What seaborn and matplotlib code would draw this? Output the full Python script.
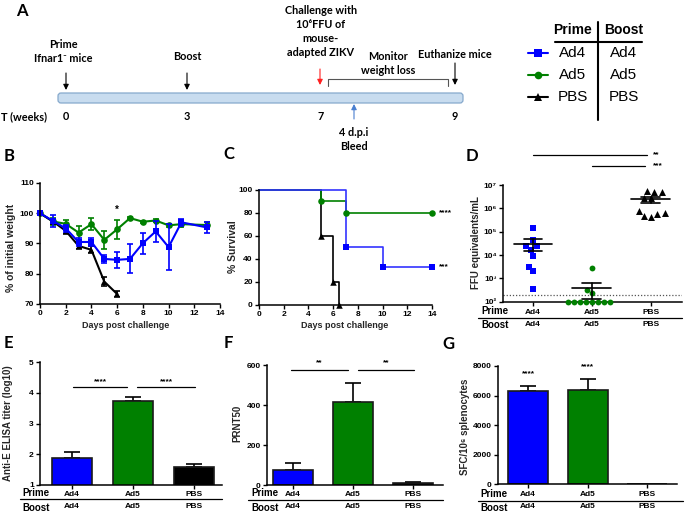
import numpy as np
import pandas as pd
import matplotlib
matplotlib.use("Agg")
import matplotlib.pyplot as plt
import matplotlib.transforms as mtrans
from matplotlib.patches import FancyBboxPatch
from matplotlib.ticker import NullLocator
import seaborn as sns

# ---------------- data ----------------
groups = ["Ad4", "Ad5", "PBS"]
prime_labels = ["Ad4", "Ad5", "PBS"]
boost_labels = ["Ad4", "Ad5", "PBS"]
colors = {"Ad4": "#0000FF", "Ad5": "#008000", "PBS": "#000000"}
markers = {"Ad4": "s", "Ad5": "o", "PBS": "^"}

# B: weight (% of initial), mean and SEM
days_ad4 = [0, 1, 2, 3, 4, 5, 6, 7, 8, 9, 10, 11, 13]
weight_ad4 = [100, 97.5, 95.0, 90.5, 90.5, 84.9, 84.6, 84.9, 90.1, 94.0, 88.8, 97.0, 95.3]
sem_ad4 = [0, 2.0, 1.2, 1.4, 1.4, 1.4, 2.6, 4.8, 3.5, 3.5, 7.6, 1.2, 1.7]
days_ad5 = [0, 1, 2, 3, 4, 5, 6, 7, 8, 9, 10, 11, 13]
weight_ad5 = [100, 97.3, 96.5, 93.6, 96.4, 91.2, 94.7, 98.4, 97.2, 97.6, 96.0, 96.4, 96.1]
sem_ad5 = [0, 1.2, 1.4, 2.3, 2.1, 2.9, 3.2, 0.4, 0.4, 0.5, 0.5, 1.0, 1.0]
days_pbs = [0, 1, 2, 3, 4, 5, 6]
weight_pbs = [100, 97.3, 94.2, 89.2, 87.9, 77.4, 73.3]
sem_pbs = [0, 0.8, 1.0, 1.1, 1.2, 1.4, 1.0]

# C: survival (Kaplan-Meier steps)
surv_t_ad4 = [0, 7, 10, 14]
surv_ad4 = [100, 50, 33.3, 33.3]
surv_t_ad5 = [0, 5, 7, 14]
surv_ad5 = [100, 90, 80, 80]
surv_t_pbs = [0, 5, 6, 6.5]
surv_pbs = [100, 60, 20, 0]

# D: viremia, FFU equivalents/mL
ffu_ad4 = [1.5e5, 4.4e4, 2.5e4, 2.45e4, 1.7e4, 9.3e3, 3.2e3, 2.0e3, 3.5e2]
ffu_ad5 = [2.7e3, 3.2e2, 2.3e2, 100, 100, 100, 100, 100, 100, 100, 100]
ffu_pbs = [4.9e6, 5.8e6, 4.9e6, 2.9e6, 2.7e6, 6.2e5, 7.9e5, 4.2e5, 4.7e5, 5.7e5]
ffu_lod = 200

# E, F, G bar values
elisa_mean = [1.88, 3.75, 1.58]
elisa_sem = [0.20, 0.10, 0.11]
prnt_mean = [75, 415, 10]
prnt_sem = [33, 97, 3]
sfc_mean = [6310, 6350, 0]
sfc_sem = [360, 770, 0]

# A: schematic timeline (schematic positions, not to scale)
week_labels = ["0", "3", "7", "9"]
week_x = [66, 187, 321, 455]

# ---------------- style ----------------
sns.set_theme(style="ticks")
plt.rcParams["font.family"] = ["Liberation Sans", "DejaVu Sans"]
plt.rcParams["font.weight"] = "bold"
plt.rcParams["axes.labelweight"] = "bold"
plt.rcParams["axes.edgecolor"] = "black"
plt.rcParams["xtick.color"] = "black"
plt.rcParams["ytick.color"] = "black"
plt.rcParams["text.color"] = "black"

W, H = 685, 512
fig = plt.figure(figsize=(W / 100, H / 100), dpi=100)
fig.patch.set_facecolor("white")
axA = fig.add_axes([0, 0, 1, 1])
axA.set_xlim(0, W)
axA.set_ylim(H, 0)
axA.axis("off")

CAL = ["Lato", "DejaVu Sans"]


def px_axes(l, t, r, b):
    ax = fig.add_axes([l / W, 1 - b / H, (r - l) / W, (b - t) / H])
    ax.set_facecolor("none")
    return ax


def style(ax):
    sns.despine(ax=ax)
    for s in ["left", "bottom"]:
        ax.spines[s].set_linewidth(1.1)
        ax.spines[s].set_color("black")
    ax.tick_params(direction="out", length=3, width=1.0, labelsize=6, pad=1.5)
    for lab in ax.get_xticklabels() + ax.get_yticklabels():
        lab.set_fontweight("bold")


def ylabel_px(ax, text, x_right, l, r, yc, t, b, size=7.5):
    ax.set_ylabel(text, fontsize=size, fontweight="bold")
    ax.yaxis.set_label_coords((x_right - l) / (r - l), (b - yc) / (b - t))


def xlabel_px(ax, text, xc, ytop, l, r, t, b, size=6.5):
    ax.set_xlabel(text, fontsize=size, fontweight="bold")
    ax.xaxis.set_label_coords((xc - l) / (r - l), (b - ytop) / (b - t))


def letter(x, y, s):
    axA.text(x, y, s, family=CAL, weight="bold", fontsize=12, ha="left", va="top")


def prime_boost(ax, y_prime, y_line, y_boost, x_label, x0, x1):
    tr = mtrans.blended_transform_factory(ax.transData, axA.transData)
    for i, (p, b) in enumerate(zip(prime_labels, boost_labels)):
        axA.text(i, y_prime, p, transform=tr, ha="center", va="center", fontsize=6, weight="bold")
        axA.text(i, y_boost, b, transform=tr, ha="center", va="center", fontsize=6, weight="bold")
    axA.text(x_label, y_prime - 1, "Prime", ha="left", va="center", fontsize=7, weight="bold")
    axA.text(x_label, y_boost + 1, "Boost", ha="left", va="center", fontsize=7, weight="bold")
    axA.plot([x0, x1], [y_line, y_line], color="black", lw=0.9)
    ax.set_xticks(range(len(groups)))
    ax.set_xticklabels([])


# ---------------- Panel A ----------------
letter(16, 3, "A")
bar = FancyBboxPatch((58, 93), 405, 10, boxstyle="round,pad=0,rounding_size=3",
                     facecolor="#c8dcef", edgecolor="#86a9cc", lw=0.9)
axA.add_patch(bar)
AS = 7.8
axA.text(1, 117, "T (weeks)", family=CAL, weight="bold", fontsize=AS, ha="left", va="center")
for lab, x in zip(week_labels, week_x):
    axA.text(x, 117, lab, family=CAL, weight="bold", fontsize=AS, ha="center", va="center")


def arrow(x, y0, y1, color="black"):
    axA.annotate("", xy=(x, y1), xytext=(x, y0),
                 arrowprops=dict(arrowstyle="-|>", color=color, lw=0.8, mutation_scale=8,
                                 shrinkA=0, shrinkB=0))


arrow(week_x[0], 73, 90)
arrow(week_x[1], 73, 90)
arrow(week_x[2] - 1, 69, 85, color="#ff2020")
arrow(week_x[3], 63, 85)
arrow(354, 119, 104, color="#4a7fd0")
axA.plot([328, 328, 448, 448], [86, 79, 79, 86], color="#555555", lw=0.8)


def lines(x, ys, texts, size=AS):
    for y, t in zip(ys, texts):
        axA.text(x, y, t, family=CAL, weight="bold", fontsize=size, ha="center", va="center")


lines(63, [44, 58], ["Prime", "Ifnar1\u207b mice"])
lines(187, [57], ["Boost"])
lines(321, [10, 24, 38, 52], ["Challenge with", "10\u2076FFU of", "mouse-", "adapted ZIKV"])
lines(388, [57, 71], ["Monitor", "weight loss"])
lines(455, [54], ["Euthanize mice"])
lines(354, [133, 147], ["4 d.p.i", "Bleed"])

# legend table
axA.text(573, 30, "Prime", ha="center", va="center", fontsize=10, weight="bold")
axA.text(624, 30, "Boost", ha="center", va="center", fontsize=10, weight="bold")
axA.plot([555, 642], [42, 42], color="black", lw=1.5)
axA.plot([598, 598], [22, 120], color="black", lw=1.5)
for g, p, b, y in zip(groups, prime_labels, boost_labels, [53, 75, 97]):
    axA.plot([528, 548], [y, y], color=colors[g], lw=1.5)
    axA.plot([538], [y], marker=markers[g], color=colors[g], ms=5.5, mew=0)
    axA.text(573, y, p, ha="center", va="center", fontsize=11, weight="normal")
    axA.text(624, y, b, ha="center", va="center", fontsize=11, weight="normal")

# ---------------- Panel B ----------------
letter(4, 148, "B")
lB, tB, rB, bB = 40, 183, 220, 304
axB = px_axes(lB, tB, rB, bB)
weights = {"Ad4": (days_ad4, weight_ad4, sem_ad4),
           "Ad5": (days_ad5, weight_ad5, sem_ad5),
           "PBS": (days_pbs, weight_pbs, sem_pbs)}
for z, g in zip([2.0, 2.1, 2.2], ["Ad5", "PBS", "Ad4"]):
    d, w, e = weights[g]
    df = pd.DataFrame({"day": d, "weight": w})
    sns.lineplot(data=df, x="day", y="weight", color=colors[g], marker=markers[g],
                 markersize=5 if g != "Ad5" else 4.8, markeredgewidth=0, linewidth=1.5,
                 ax=axB, zorder=z, clip_on=False)
    axB.errorbar(d, w, yerr=e, fmt="none", ecolor=colors[g], elinewidth=1.2,
                 capsize=2.5, capthick=1.2, zorder=z, clip_on=False)
axB.text(6, 101.2, "*", ha="center", va="center", fontsize=7)
axB.set_xlim(0, 14)
axB.set_ylim(70, 110)
axB.set_xticks(range(0, 15, 2))
axB.set_yticks(range(70, 111, 10))
style(axB)
ylabel_px(axB, "% of initial weight", 16, lB, rB, 248, tB, bB)
xlabel_px(axB, "Days post challenge", 126, 321, lB, rB, tB, bB)

# ---------------- Panel C ----------------
letter(223, 146, "C")
lC, tC, rC, bC = 259, 190, 432, 304.7
axC = px_axes(lC, tC, rC, bC)
surv = {"Ad4": (surv_t_ad4, surv_ad4), "Ad5": (surv_t_ad5, surv_ad5), "PBS": (surv_t_pbs, surv_pbs)}
for z, g in zip([2.0, 2.1, 2.2], ["PBS", "Ad5", "Ad4"]):
    t, s = surv[g]
    sns.lineplot(x=t, y=s, drawstyle="steps-post", color=colors[g] if g != "Ad4" else "#3333ff",
                 linewidth=1.2, ax=axC, zorder=z, clip_on=False)
    sns.scatterplot(x=t[1:], y=s[1:], marker=markers[g], color=colors[g], s=22,
                    linewidth=0, ax=axC, zorder=z + 1, clip_on=False, legend=False)
axC.annotate("****", xy=(surv_t_ad5[-1], surv_ad5[-1]), xytext=(5, 0), textcoords="offset points",
             ha="left", va="center", fontsize=6)
axC.annotate("***", xy=(surv_t_ad4[-1], surv_ad4[-1]), xytext=(5, 0), textcoords="offset points",
             ha="left", va="center", fontsize=6)
axC.set_xlim(0, 14)
axC.set_ylim(0, 100)
axC.set_xticks(range(0, 15, 2))
axC.set_yticks(range(0, 101, 20))
style(axC)
ylabel_px(axC, "% Survival", 238, lC, rC, 247, tC, bC)
xlabel_px(axC, "Days post challenge", 345, 321, lC, rC, tC, bC)

# ---------------- Panel D ----------------
letter(466, 148, "D")
lD, tD, rD, bD = 503, 185, 682, 301.7
axD = px_axes(lD, tD, rD, bD)
ffu = {"Ad4": ffu_ad4, "Ad5": ffu_ad5, "PBS": ffu_pbs}
sizes = {"Ad4": 4.6, "Ad5": 4.2, "PBS": 5.0}
for g in groups:
    df = pd.DataFrame({"group": g, "ffu": ffu[g]})
    sns.swarmplot(data=df, x="group", y="ffu", order=groups, color=colors[g],
                  marker=markers[g], size=sizes[g], linewidth=0, log_scale=True,
                  ax=axD, zorder=3, warn_thresh=1)
for c in axD.collections:
    c.set_clip_on(False)
for i, g in enumerate(groups):
    v = np.array(ffu[g])
    m = v.mean()
    se = v.std(ddof=1) / np.sqrt(len(v))
    axD.plot([i - 0.33, i + 0.33], [m, m], color="black", lw=1.2, zorder=4)
    axD.plot([i, i], [m - se, m + se], color="black", lw=1.2, zorder=4)
    for yv in (m - se, m + se):
        axD.plot([i - 0.16, i + 0.16], [yv, yv], color="black", lw=1.2, zorder=4)
axD.axhline(ffu_lod, color="#555555", lw=0.9, ls=(0, (1, 1.5)), zorder=1)
axD.set_xlim(-0.51, 2.53)
axD.set_ylim(1e2, 1e7)
sup = str.maketrans("0123456789", "\u2070\u00b9\u00b2\u00b3\u2074\u2075\u2076\u2077\u2078\u2079")
axD.set_yticks([10.0 ** k for k in range(2, 8)])
axD.set_yticklabels(["10" + str(k).translate(sup) for k in range(2, 8)])
axD.yaxis.set_minor_locator(NullLocator())
axD.set_xlabel("")
style(axD)
ylabel_px(axD, "FFU equivalents/mL", 481, lD, rD, 243, tD, bD, size=7)
prime_boost(axD, 312, 318, 324, 481, 478, 682)
trD = mtrans.blended_transform_factory(axD.transData, axA.transData)
axA.plot([0.0, 1.93], [155, 155], color="black", lw=0.9, transform=trD)
axA.text(2.03, 155, "**", transform=trD, ha="left", va="center", fontsize=6)
axA.plot([1.0, 1.9], [166, 166], color="black", lw=0.9, transform=trD)
axA.text(2.03, 166, "***", transform=trD, ha="left", va="center", fontsize=6)


def bars(ax, means, sems, width):
    sns.barplot(x=groups, y=means, hue=groups, palette=colors, width=width, saturation=1,
                edgecolor="#1a1a1a", linewidth=1.2, legend=False, ax=ax, zorder=2)
    idx = [i for i, s in enumerate(sems) if s > 0]
    ax.errorbar(idx, [means[i] for i in idx],
                yerr=[np.zeros(len(idx)), [sems[i] for i in idx]],
                fmt="none", ecolor="black", elinewidth=1.2, capsize=6, capthick=1.2, zorder=1.5)


def sig(ax, x0, x1, y, ytext, txt):
    ax.plot([x0, x1], [y, y], color="black", lw=0.9, clip_on=False)
    ax.text((x0 + x1) / 2, ytext, txt, ha="center", va="center", fontsize=6)


# ---------------- Panel E ----------------
letter(4, 335, "E")
lE, tE, rE, bE = 40, 362.3, 222, 484.7
axE = px_axes(lE, tE, rE, bE)
bars(axE, elisa_mean, elisa_sem, 0.67)
sig(axE, 0.02, 0.9, 4.19, 4.36, "****")
sig(axE, 1.07, 2.02, 4.19, 4.36, "****")
axE.set_xlim(-0.525, 2.46)
axE.set_ylim(1, 5)
axE.set_yticks(range(1, 6))
style(axE)
ylabel_px(axE, "Anti-E ELISA titer (log10)", 13, lE, rE, 423, tE, bE, size=7)
prime_boost(axE, 494, 499, 507, 22, 20, 222)

# ---------------- Panel F ----------------
letter(224, 335, "F")
lF, tF, rF, bF = 267, 365, 443, 485
axF = px_axes(lF, tF, rF, bF)
bars(axF, prnt_mean, prnt_sem, 0.67)
sig(axF, -0.03, 0.92, 575, 612, "**")
sig(axF, 1.08, 2.02, 575, 612, "**")
axF.set_xlim(-0.433, 2.5)
axF.set_ylim(0, 600)
axF.set_yticks(range(0, 601, 200))
style(axF)
ylabel_px(axF, "PRNT50", 242, lF, rF, 423, tF, bF, size=7)
prime_boost(axF, 494, 500, 507, 251, 248, 443)

# ---------------- Panel G ----------------
letter(442, 336, "G")
lG, tG, rG, bG = 498, 366, 677, 484.3
axG = px_axes(lG, tG, rG, bG)
bars(axG, sfc_mean, sfc_sem, 0.67)
for i in range(2):
    axG.text(i, sfc_mean[i] + sfc_sem[i] + 800, "****", ha="center", va="center", fontsize=6)
axG.set_xlim(-0.504, 2.5)
axG.set_ylim(0, 8000)
axG.set_yticks(range(0, 8001, 2000))
style(axG)
ylabel_px(axG, "SFC/10\u2076 splenocytes", 470, lG, rG, 427, tG, bG, size=7)
prime_boost(axG, 495, 501, 507, 480, 478, 683)

fig.savefig("out.png", dpi=100, facecolor="white")
